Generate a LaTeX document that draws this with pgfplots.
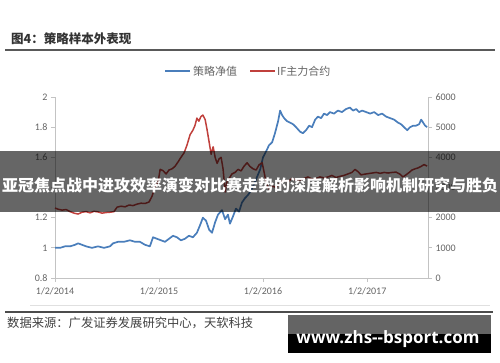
\documentclass[border=0pt]{standalone}
\usepackage{pgfplots}
\pgfplotsset{compat=1.18}
\usepackage{pgfplotstable}
\usepackage{fontspec}
\setmainfont{Carlito}
\newfontfamily\cjk{Noto Sans CJK SC}
\newfontfamily\wm{Open Sans}
\definecolor{bl}{RGB}{74,126,187}
\definecolor{rd}{RGB}{192,64,60}
\definecolor{tk}{RGB}{100,100,100}
\definecolor{ax}{RGB}{195,195,195}
\pgfplotstableread{
d v
0 1.00
18 1.00
35 1.01
53 1.01
70 1.02
81 1.03
95 1.02
109 1.01
130 1.00
151 1.01
172 1.00
193 1.01
204 1.03
221 1.04
242 1.04
263 1.05
281 1.04
298 1.04
316 1.02
333 1.01
344 1.07
358 1.06
372 1.05
386 1.04
400 1.06
414 1.08
428 1.07
442 1.05
456 1.06
470 1.08
484 1.07
498 1.10
509 1.15
519 1.20
530 1.18
541 1.12
551 1.10
562 1.17
572 1.22
586 1.25
597 1.19
607 1.22
614 1.16
625 1.21
635 1.26
646 1.24
656 1.30
667 1.33
677 1.35
688 1.38
698 1.42
709 1.47
720 1.52
730 1.60
741 1.64
751 1.68
762 1.70
772 1.76
783 1.84
790 1.91
797 1.88
804 1.86
814 1.84
825 1.83
835 1.82
846 1.80
860 1.77
870 1.76
881 1.78
892 1.81
902 1.80
913 1.85
923 1.87
934 1.86
944 1.89
955 1.88
965 1.90
979 1.89
993 1.91
1007 1.90
1021 1.92
1035 1.93
1046 1.91
1057 1.92
1067 1.90
1078 1.91
1092 1.90
1106 1.89
1120 1.90
1134 1.88
1148 1.89
1162 1.87
1176 1.86
1190 1.85
1204 1.83
1214 1.82
1225 1.80
1236 1.78
1246 1.80
1257 1.81
1267 1.81
1278 1.82
1285 1.85
1292 1.83
1299 1.81
1306 1.80
}\strat
\pgfplotstableread{
d v
0 2320
11 2280
25 2250
39 2270
53 2200
67 2150
81 2120
95 2180
109 2200
123 2160
137 2210
151 2190
165 2150
179 2170
193 2180
207 2200
218 2350
232 2380
246 2360
260 2420
274 2400
288 2450
302 2480
316 2470
330 2520
340 2700
351 3000
362 3200
369 3600
379 3560
390 3450
400 3580
411 3620
421 3700
432 3850
442 4000
453 4150
463 4400
474 4750
484 4900
491 5050
498 5300
505 5200
512 5350
519 5400
527 5250
534 4900
541 4500
548 4100
555 4350
562 4000
569 3800
576 3950
583 4000
590 3600
597 2850
604 3200
611 3300
621 3450
632 3500
642 3600
653 3550
663 3700
674 3820
684 3700
695 3620
706 3580
716 3750
727 3820
734 3500
741 3150
751 2950
762 3050
776 3000
790 3150
804 3250
818 3200
832 3300
846 3250
860 3250
874 3300
888 3350
902 3280
916 3300
930 3350
944 3320
958 3350
972 3400
986 3330
1000 3370
1014 3400
1028 3450
1042 3500
1053 3600
1064 3520
1074 3420
1085 3440
1099 3460
1113 3480
1127 3500
1141 3470
1155 3500
1169 3480
1183 3500
1197 3510
1211 3440
1221 3350
1232 3420
1243 3500
1253 3580
1264 3620
1274 3650
1285 3700
1295 3760
1306 3710
}\indexf
\begin{document}
\begin{tikzpicture}[x=1pt,y=1pt]
\useasboundingbox (0,0) rectangle (500,-362);
% title and rules
\node[anchor=west,inner sep=0,text=black!80] at (11,-39) {\cjk\bfseries\fontsize{12.5}{14}\selectfont 图4：策略样本外表现};
\draw[line width=1.2pt,black!65] (5,-50) -- (495,-50);
\draw[line width=0.6pt,black!12] (30,-305) -- (490,-305);
\draw[line width=1.2pt,black!70] (5,-312) -- (493,-312);
\node[anchor=west,inner sep=0,text=black!75] at (7,-323) {\cjk\fontsize{12.3}{14}\selectfont 数据来源：广发证券发展研究中心，天软科技};
% legend
\draw[bl,line width=1.8pt] (165,-71) -- (190,-71);
\node[anchor=west,inner sep=0,text=tk] at (193,-71) {\cjk\fontsize{11}{13}\selectfont 策略净值};
\draw[rd,line width=1.8pt] (250,-71) -- (275,-71);
\node[anchor=west,inner sep=0,text=tk] at (277,-71) {\cjk\fontsize{11}{13}\selectfont IF主力合约};
\begin{axis}[
  at={(55pt,-278pt)}, anchor=south west, scale only axis,
  width=373pt, height=181pt,
  xmin=0, xmax=1309, ymin=0.8, ymax=2,
  axis y line*=left, axis x line*=bottom,
  axis line style={ax,line width=0.8pt,-},
  tick style={ax,line width=0.8pt}, tick align=outside,
  major tick length=4pt,
  xtick={0,365,730,1096},
  xticklabels={1/2/2014,1/2/2015,1/2/2016,1/2/2017},
  ytick={0.8,1,1.2,1.4,1.6,1.8,2},
  yticklabels={0.8,1,1.2,1.4,1.6,1.8,2},
  ticklabel style={font=\fontsize{10}{12}\selectfont,text=tk},
  xticklabel style={yshift=-2pt},
  /pgf/number format/assume math mode=true,
  clip=false,
]
\addplot[bl,line width=1.7pt,line join=round] table[x=d,y=v]{\strat};
\end{axis}
\begin{axis}[
  at={(55pt,-278pt)}, anchor=south west, scale only axis,
  width=373pt, height=181pt,
  xmin=0, xmax=1309, ymin=0, ymax=6000,
  axis y line*=right, axis x line=none,
  axis line style={ax,line width=0.8pt,-},
  tick style={ax,line width=0.8pt}, tick align=outside,
  major tick length=4pt,
  ytick={0,1000,2000,3000,4000,5000,6000},
  yticklabels={0,1000,2000,3000,4000,5000,6000},
  ticklabel style={font=\fontsize{10}{12}\selectfont,text=tk},
  /pgf/number format/assume math mode=true,
  clip=false,
]
\addplot[rd,line width=1.5pt,line join=round] table[x=d,y=v]{\indexf};
\end{axis}
% banner overlay
\fill[black,opacity=0.6] (0,-151) rectangle (500,-212);
\node[text=white,inner sep=0] at (250,-185) {\cjk\bfseries\fontsize{16}{18}\selectfont 亚冠焦点战中进攻效率演变对比赛走势的深度解析影响机制研究与胜负};
% watermark
\fill[tk] (288,-315) rectangle (491,-334);
\fill[black] (288,-334) rectangle (491,-353);
\node[text=white,inner sep=0,anchor=base] at (388,-343) {\wm\bfseries\fontsize{17}{19}\selectfont www.zhs--bsport.com};
\end{tikzpicture}
\end{document}
